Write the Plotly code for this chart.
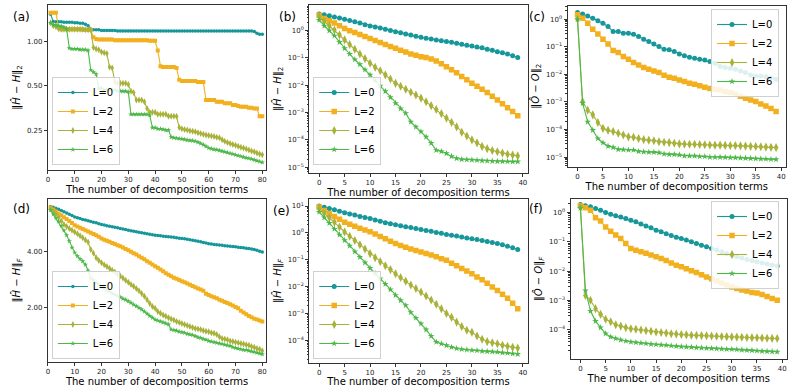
"""Erreur de décomposition en fonction du nombre de termes (6 panneaux)."""

import plotly.graph_objects as go
from plotly.subplots import make_subplots

# --- données -----------------------------------------------------------------
terms_80 = list(range(1, 81))
terms_40 = list(range(0, 40))

series_names = ["L=0", "L=2", "L=4", "L=6"]

# (a) ||H^ - H||_2, 80 termes
a_L0 = [1.53, 1.37, 1.36, 1.36, 1.36, 1.35, 1.35, 1.35, 1.35, 1.34,
        1.34, 1.33, 1.33, 1.31, 1.28, 1.21, 1.20, 1.20, 1.20, 1.19,
        1.19, 1.19, 1.19, 1.19, 1.19, 1.18, 1.18, 1.18, 1.18, 1.18,
        1.18, 1.18, 1.18, 1.18, 1.18, 1.18, 1.18, 1.18, 1.18, 1.18,
        1.18, 1.18, 1.18, 1.18, 1.18, 1.18, 1.18, 1.18, 1.18, 1.18,
        1.18, 1.18, 1.18, 1.18, 1.18, 1.18, 1.18, 1.18, 1.18, 1.18,
        1.18, 1.18, 1.18, 1.18, 1.18, 1.18, 1.18, 1.18, 1.18, 1.18,
        1.18, 1.18, 1.18, 1.18, 1.18, 1.18, 1.17, 1.14, 1.12, 1.12]
a_L2 = [1.57, 1.57, 1.57, 1.25, 1.21, 1.21, 1.21, 1.21, 1.21, 1.21,
        1.21, 1.21, 1.20, 1.20, 1.20, 1.20, 1.07, 1.04, 1.03, 1.03,
        1.03, 1.03, 1.03, 1.03, 1.02, 1.02, 1.02, 1.02, 1.02, 1.02,
        1.02, 1.02, 1.02, 1.02, 1.02, 1.02, 1.02, 1.01, 1.01, 1.01,
        0.87, 0.68, 0.67, 0.67, 0.67, 0.67, 0.67, 0.66, 0.55, 0.54,
        0.54, 0.54, 0.54, 0.54, 0.54, 0.53, 0.53, 0.53, 0.40, 0.40,
        0.40, 0.40, 0.39, 0.39, 0.39, 0.38, 0.38, 0.38, 0.37, 0.37,
        0.365, 0.36, 0.36, 0.36, 0.355, 0.355, 0.35, 0.35, 0.31, 0.31]
a_L4 = [1.34, 1.28, 1.26, 1.22, 1.21, 1.21, 1.21, 1.21, 1.21, 1.21,
        1.21, 1.21, 1.21, 1.20, 1.20, 1.20, 0.91, 0.89, 0.88, 0.85,
        0.84, 0.83, 0.67, 0.66, 0.53, 0.52, 0.52, 0.52, 0.52, 0.51,
        0.46, 0.45, 0.40, 0.40, 0.40, 0.39, 0.35, 0.33, 0.33, 0.33,
        0.32, 0.32, 0.32, 0.32, 0.31, 0.31, 0.31, 0.31, 0.26, 0.255,
        0.252, 0.25, 0.248, 0.246, 0.244, 0.24, 0.237, 0.234, 0.232, 0.23,
        0.228, 0.226, 0.224, 0.222, 0.215, 0.21, 0.206, 0.203, 0.20, 0.197,
        0.194, 0.191, 0.189, 0.186, 0.183, 0.18, 0.178, 0.175, 0.172, 0.17]
a_L6 = [1.34, 1.30, 1.29, 1.28, 1.27, 1.25, 1.22, 0.90, 0.89, 0.89,
        0.89, 0.88, 0.88, 0.88, 0.87, 0.64, 0.62, 0.60, 0.48, 0.48,
        0.47, 0.47, 0.47, 0.47, 0.47, 0.46, 0.46, 0.46, 0.46, 0.455,
        0.32, 0.32, 0.32, 0.32, 0.32, 0.32, 0.32, 0.315, 0.26, 0.26,
        0.255, 0.255, 0.253, 0.25, 0.25, 0.224, 0.222, 0.22, 0.219, 0.218,
        0.216, 0.214, 0.213, 0.212, 0.21, 0.207, 0.203, 0.199, 0.194, 0.189,
        0.187, 0.185, 0.184, 0.182, 0.18, 0.178, 0.176, 0.174, 0.172, 0.17,
        0.168, 0.166, 0.164, 0.162, 0.161, 0.159, 0.157, 0.155, 0.153, 0.151]

# (b) ||H^ - H||_2, 40 termes
b_L0 = [4.1, 3.8, 3.5, 3.2, 2.9, 2.6, 2.35, 2.1, 1.9, 1.65,
        1.48, 1.36, 1.25, 1.12, 1.02, 0.92, 0.84, 0.76, 0.69, 0.62,
        0.57, 0.53, 0.50, 0.46, 0.43, 0.40, 0.375, 0.35, 0.32, 0.295,
        0.275, 0.255, 0.235, 0.21, 0.19, 0.17, 0.155, 0.14, 0.12, 0.104]
b_L2 = [3.7, 2.8, 2.3, 1.9, 1.5, 1.2, 1.0, 0.85, 0.72, 0.61,
        0.52, 0.44, 0.37, 0.31, 0.265, 0.225, 0.19, 0.165, 0.14, 0.125,
        0.112, 0.105, 0.092, 0.078, 0.062, 0.048, 0.037, 0.029, 0.021, 0.016,
        0.0118, 0.0092, 0.0072, 0.0055, 0.0040, 0.0029, 0.0021, 0.0015, 0.0011, 0.00077]
b_L4 = [3.3, 2.2, 1.5, 1.05, 0.70, 0.46, 0.31, 0.21, 0.14, 0.095,
        0.064, 0.046, 0.034, 0.024, 0.017, 0.0118, 0.0092, 0.0072, 0.0056, 0.0044,
        0.0034, 0.0025, 0.0018, 0.0013, 0.00092, 0.00063, 0.00044, 0.00030, 0.00019, 0.00014,
        0.00010, 7.8e-5, 5.8e-5, 4.8e-5, 4.1e-5, 3.7e-5, 3.3e-5, 3.0e-5, 2.8e-5, 2.6e-5]
b_L6 = [2.45, 1.5, 1.0, 0.65, 0.38, 0.225, 0.14, 0.088, 0.058, 0.037,
        0.024, 0.015, 0.0095, 0.0060, 0.0036, 0.0022, 0.0014, 0.00095, 0.00046, 0.00030,
        0.00020, 0.00013, 7.6e-5, 4.2e-5, 3.8e-5, 3.2e-5, 2.5e-5, 2.1e-5, 1.95e-5, 1.9e-5,
        1.85e-5, 1.8e-5, 1.75e-5, 1.7e-5, 1.68e-5, 1.65e-5, 1.63e-5, 1.62e-5, 1.61e-5, 1.6e-5]

# (c) ||O^ - O||_2
c_L0 = [1.75, 1.56, 1.32, 1.09, 0.89, 0.716, 0.541, 0.356, 0.356, 0.31,
        0.31, 0.285, 0.235, 0.188, 0.155, 0.127, 0.102, 0.082, 0.078, 0.067,
        0.055, 0.047, 0.042, 0.0385, 0.0354, 0.0334, 0.029, 0.0252, 0.0191, 0.0176,
        0.0167, 0.0153, 0.0133, 0.0116, 0.0095, 0.0087, 0.0087, 0.0083, 0.0076, 0.0066]
c_L2 = [1.44, 1.09, 0.716, 0.43, 0.293, 0.188, 0.127, 0.073, 0.062, 0.044,
        0.035, 0.027, 0.022, 0.0176, 0.0153, 0.0133, 0.0116, 0.0093, 0.0078, 0.0072,
        0.0063, 0.0055, 0.0048, 0.0044, 0.0039, 0.0034, 0.0031, 0.0029, 0.0027, 0.0024,
        0.0022, 0.0019, 0.0016, 0.00136, 0.00118, 0.00103, 0.00084, 0.00071, 0.00058, 0.00045]
c_L4 = [1.0, 0.00103, 0.0005, 0.00034, 0.00018, 1.1e-4, 9.3e-5, 8.5e-5, 7.3e-5, 6.3e-5,
        5.4e-5, 5.2e-5, 4.7e-5, 4.3e-5, 4.1e-5, 3.9e-5, 3.6e-5, 3.45e-5, 3.35e-5, 3.15e-5,
        3.0e-5, 2.95e-5, 2.9e-5, 2.9e-5, 2.85e-5, 2.8e-5, 2.75e-5, 2.7e-5, 2.7e-5, 2.65e-5,
        2.6e-5, 2.6e-5, 2.55e-5, 2.5e-5, 2.45e-5, 2.4e-5, 2.35e-5, 2.3e-5, 2.25e-5, 2.2e-5]
c_L6 = [1.0, 9e-4, 1.9e-4, 9.5e-5, 4.7e-5, 3.3e-5, 2.5e-5, 2.25e-5, 1.9e-5, 1.85e-5,
        1.8e-5, 1.8e-5, 1.6e-5, 1.55e-5, 1.5e-5, 1.5e-5, 1.45e-5, 1.3e-5, 1.25e-5, 1.25e-5,
        1.2e-5, 1.1e-5, 1.1e-5, 1.1e-5, 1.05e-5, 1.05e-5, 1.0e-5, 1.0e-5, 1.0e-5, 9.8e-6,
        9.6e-6, 9.5e-6, 9.3e-6, 9.2e-6, 9.0e-6, 8.8e-6, 8.6e-6, 8.5e-6, 8.3e-6, 8.2e-6]

# (d) ||H^ - H||_F, 80 termes
d_L0 = [7.00, 6.92, 6.84, 6.75, 6.66, 6.56, 6.46, 6.36, 6.25, 6.14,
        6.08, 6.02, 5.96, 5.91, 5.86, 5.81, 5.76, 5.71, 5.65, 5.59,
        5.55, 5.51, 5.47, 5.44, 5.40, 5.37, 5.33, 5.29, 5.25, 5.21,
        5.18, 5.14, 5.11, 5.08, 5.05, 5.02, 4.99, 4.96, 4.93, 4.90,
        4.88, 4.86, 4.84, 4.82, 4.80, 4.79, 4.77, 4.75, 4.72, 4.70,
        4.68, 4.66, 4.63, 4.60, 4.57, 4.54, 4.51, 4.48, 4.44, 4.41,
        4.39, 4.37, 4.35, 4.34, 4.32, 4.30, 4.29, 4.27, 4.26, 4.24,
        4.22, 4.21, 4.19, 4.17, 4.15, 4.13, 4.10, 4.06, 4.02, 3.98]
d_L2 = [6.90, 6.74, 6.58, 6.42, 6.27, 6.12, 5.98, 5.84, 5.69, 5.54,
        5.45, 5.37, 5.29, 5.21, 5.13, 5.05, 4.97, 4.89, 4.80, 4.70,
        4.63, 4.57, 4.51, 4.45, 4.39, 4.33, 4.27, 4.20, 4.13, 4.07,
        3.99, 3.92, 3.85, 3.77, 3.70, 3.63, 3.55, 3.48, 3.41, 3.33,
        3.27, 3.20, 3.13, 3.06, 3.00, 2.94, 2.89, 2.85, 2.81, 2.77,
        2.73, 2.69, 2.65, 2.61, 2.57, 2.53, 2.50, 2.46, 2.37, 2.33,
        2.30, 2.27, 2.24, 2.20, 2.17, 2.14, 2.11, 2.08, 2.05, 2.01,
        1.98, 1.92, 1.88, 1.84, 1.80, 1.77, 1.74, 1.72, 1.70, 1.68]
d_L4 = [6.81, 6.60, 6.35, 6.10, 5.85, 5.60, 5.45, 5.32, 5.20, 5.10,
        4.98, 4.86, 4.74, 4.62, 4.50, 4.10, 3.92, 3.70, 3.58, 3.48,
        3.40, 3.32, 3.25, 3.17, 3.10, 3.02, 2.95, 2.88, 2.80, 2.73,
        2.66, 2.60, 2.53, 2.46, 2.38, 2.30, 2.20, 2.10, 2.02, 1.98,
        1.90, 1.86, 1.82, 1.79, 1.76, 1.73, 1.71, 1.68, 1.66, 1.64,
        1.62, 1.60, 1.58, 1.56, 1.54, 1.53, 1.52, 1.50, 1.49, 1.48,
        1.46, 1.45, 1.43, 1.39, 1.36, 1.35, 1.34, 1.32, 1.31, 1.30,
        1.29, 1.28, 1.27, 1.26, 1.25, 1.23, 1.22, 1.20, 1.19, 1.17]
d_L6 = [6.68, 6.35, 6.05, 5.80, 5.50, 5.20, 4.90, 4.55, 4.20, 3.95,
        3.78, 3.65, 3.55, 3.40, 3.16, 2.88, 2.80, 2.72, 2.65, 2.58,
        2.53, 2.48, 2.43, 2.38, 2.34, 2.30, 2.27, 2.23, 2.20, 2.16,
        2.12, 2.07, 2.03, 1.99, 1.95, 1.90, 1.85, 1.80, 1.76, 1.72,
        1.70, 1.68, 1.66, 1.64, 1.62, 1.52, 1.51, 1.50, 1.48, 1.47,
        1.46, 1.44, 1.43, 1.42, 1.40, 1.38, 1.37, 1.35, 1.34, 1.32,
        1.31, 1.30, 1.29, 1.28, 1.27, 1.26, 1.25, 1.24, 1.22, 1.21,
        1.20, 1.19, 1.18, 1.18, 1.17, 1.16, 1.15, 1.14, 1.13, 1.12]

# (e) ||H^ - H||_F, 40 termes
e_L0 = [10.0, 9.0, 8.1, 7.2, 6.4, 5.6, 5.1, 4.6, 4.1, 3.7,
        3.4, 3.0, 2.7, 2.4, 2.2, 2.0, 1.85, 1.7, 1.58, 1.46,
        1.35, 1.24, 1.14, 1.04, 0.96, 0.88, 0.82, 0.76, 0.70, 0.65,
        0.61, 0.57, 0.52, 0.48, 0.44, 0.40, 0.36, 0.32, 0.28, 0.24]
e_L2 = [9.2, 6.8, 5.2, 4.1, 3.2, 2.5, 2.1, 1.75, 1.5, 1.28,
        1.1, 0.90, 0.74, 0.60, 0.49, 0.40, 0.34, 0.29, 0.25, 0.22,
        0.195, 0.17, 0.15, 0.13, 0.11, 0.095, 0.075, 0.06, 0.047, 0.038,
        0.030, 0.023, 0.018, 0.0135, 0.0098, 0.0072, 0.0052, 0.0037, 0.0024, 0.00149]
e_L4 = [8.0, 5.5, 3.7, 2.5, 1.65, 1.08, 0.75, 0.52, 0.36, 0.25,
        0.17, 0.12, 0.085, 0.060, 0.043, 0.030, 0.022, 0.016, 0.0115, 0.0085,
        0.0063, 0.0045, 0.0032, 0.0022, 0.0015, 0.0010, 0.00072, 0.00048, 0.00033, 0.00024,
        0.00020, 0.000145, 0.00011, 9.0e-5, 8.2e-5, 7.5e-5, 6.6e-5, 6.0e-5, 5.5e-5, 5.2e-5]
e_L6 = [6.0, 3.7, 2.3, 1.4, 0.85, 0.53, 0.33, 0.20, 0.125, 0.078,
        0.049, 0.031, 0.020, 0.0125, 0.0078, 0.0048, 0.0031, 0.0020, 0.0011, 0.00068,
        0.00042, 0.00025, 0.000145, 8.7e-5, 7.5e-5, 6.5e-5, 5.6e-5, 5.0e-5, 4.7e-5, 4.5e-5,
        4.3e-5, 4.2e-5, 4.0e-5, 3.9e-5, 3.8e-5, 3.7e-5, 3.5e-5, 3.4e-5, 3.2e-5, 3.1e-5]

# (f) ||O^ - O||_F
f_L0 = [1.87, 1.69, 1.56, 1.37, 1.20, 1.00, 0.88, 0.78, 0.70, 0.62,
        0.55, 0.48, 0.41, 0.35, 0.30, 0.25, 0.22, 0.19, 0.165, 0.145,
        0.13, 0.115, 0.10, 0.088, 0.077, 0.068, 0.060, 0.053, 0.046, 0.040,
        0.035, 0.031, 0.028, 0.025, 0.023, 0.021, 0.019, 0.0175, 0.0163, 0.0152]
f_L2 = [1.69, 1.44, 1.2, 0.66, 0.51, 0.32, 0.23, 0.17, 0.13, 0.088,
        0.059, 0.052, 0.046, 0.041, 0.036, 0.031, 0.027, 0.023, 0.019, 0.016,
        0.0141, 0.0122, 0.0104, 0.0090, 0.0076, 0.0064, 0.0055, 0.0047, 0.0040, 0.0034,
        0.0029, 0.0026, 0.0023, 0.0021, 0.0019, 0.0018, 0.0016, 0.00138, 0.00118, 0.00103]
f_L4 = [1.56, 1.5e-3, 1.03e-3, 5.3e-4, 3.4e-4, 2.3e-4, 1.9e-4, 1.5e-4, 1.35e-4, 1.2e-4,
        1.1e-4, 1.05e-4, 1.0e-4, 9.5e-5, 9.0e-5, 8.5e-5, 8.2e-5, 7.8e-5, 7.4e-5, 7.2e-5,
        7.0e-5, 6.8e-5, 6.6e-5, 6.5e-5, 6.4e-5, 6.3e-5, 6.2e-5, 6.1e-5, 6.0e-5, 5.9e-5,
        5.8e-5, 5.7e-5, 5.6e-5, 5.5e-5, 5.45e-5, 5.4e-5, 5.3e-5, 5.2e-5, 5.15e-5, 5.1e-5]
f_L6 = [1.4, 2.2e-3, 4.4e-4, 2.0e-4, 1.2e-4, 7.5e-5, 5.8e-5, 5.1e-5, 4.6e-5, 4.2e-5,
        3.9e-5, 3.75e-5, 3.6e-5, 3.45e-5, 3.3e-5, 3.2e-5, 3.1e-5, 3.0e-5, 2.9e-5, 2.8e-5,
        2.7e-5, 2.65e-5, 2.6e-5, 2.5e-5, 2.45e-5, 2.4e-5, 2.35e-5, 2.3e-5, 2.25e-5, 2.2e-5,
        2.2e-5, 2.15e-5, 2.1e-5, 2.05e-5, 2.0e-5, 1.95e-5, 1.9e-5, 1.87e-5, 1.83e-5, 1.8e-5]

# --- style -------------------------------------------------------------------
FONT = "DejaVu Sans"
COLORS = ["#16979a", "#f2b01e", "#a8b23a", "#4cb848"]
SYMBOLS = ["circle", "square", "diamond-tall", "star"]
SIZES_40 = [5, 5.5, 6.5, 5]
SIZES_80 = [3.5, 4, 5, 4]

XTITLE = "The number of decomposition terms"
H2 = "‖<i>Ĥ</i> − <i>H</i>‖<sub>2</sub>"
HF = "‖<i>Ĥ</i> − <i>H</i>‖<sub><i>F</i></sub>"
O2 = "‖<i>Ô</i> − <i>O</i>‖<sub>2</sub>"
OF = "‖<i>Ô</i> − <i>O</i>‖<sub><i>F</i></sub>"

W, H = 793, 387

# tag, ligne, colonne, x, séries, titre y, domaine x (px), domaine y (px), légende
panels = [
    ("a", 1, 1, terms_80, [a_L0, a_L2, a_L4, a_L6], H2, (46, 265), (5, 170), "legend"),
    ("b", 1, 2, terms_40, [b_L0, b_L2, b_L4, b_L6], H2, (308, 527), (5, 172.7), "legend2"),
    ("c", 1, 3, terms_40, [c_L0, c_L2, c_L4, c_L6], O2, (567, 786), (6, 166.7), "legend3"),
    ("d", 2, 1, terms_80, [d_L0, d_L2, d_L4, d_L6], HF, (46, 265), (199, 362), "legend4"),
    ("e", 2, 2, terms_40, [e_L0, e_L2, e_L4, e_L6], HF, (308, 527), (199.3, 362.7), "legend5"),
    ("f", 2, 3, terms_40, [f_L0, f_L2, f_L4, f_L6], OF, (570, 787), (199.3, 358.7), "legend6"),
]

fig = make_subplots(rows=2, cols=3)

for tag, row, col, xs, series, ytitle, xdom, ydom, leg in panels:
    sizes = SIZES_80 if len(xs) == 80 else SIZES_40
    for name, ys, color, sym, size in zip(series_names, series, COLORS, SYMBOLS, sizes):
        fig.add_trace(
            go.Scatter(
                x=xs, y=ys, name=name, mode="lines+markers", legend=leg,
                line=dict(color=color, width=1.1),
                marker=dict(symbol=sym, size=size, color=color, line=dict(width=0)),
            ),
            row=row, col=col,
        )
    fig.update_xaxes(
        domain=[xdom[0] / W, xdom[1] / W],
        title=dict(text=XTITLE, font=dict(size=10, color="black"), standoff=2),
        row=row, col=col,
    )
    fig.update_yaxes(
        domain=[1 - ydom[1] / H, 1 - ydom[0] / H],
        title=dict(text=ytitle, font=dict(size=10, color="black"), standoff=4),
        type="log",
        row=row, col=col,
    )

# axes x
fig.update_xaxes(range=[0, 81.5], tickvals=list(range(0, 81, 10)), row=1, col=1)
fig.update_xaxes(range=[0, 81.5], tickvals=list(range(0, 81, 10)), row=2, col=1)
for r in (1, 2):
    for c in (2, 3):
        fig.update_xaxes(range=[-1.95, 40.95], tickvals=list(range(0, 41, 5)), row=r, col=c)


# axes y (log)
def pow_ticks(lo, hi):
    vals = [10.0 ** p for p in range(lo, hi + 1)]
    text = ["10<sup>%s</sup>" % (str(p).replace("-", "−")) for p in range(lo, hi + 1)]
    return vals, text


def minor_ticks(lo, hi):
    return [k * 10.0 ** p for p in range(lo, hi + 1) for k in range(2, 10)]


fig.update_yaxes(range=[-0.873, 0.248], tickvals=[0.25, 0.5, 1.0],
                 ticktext=["0.25", "0.50", "1.00"], row=1, col=1)
fig.update_yaxes(range=[0.007, 0.885], tickvals=[2.0, 4.0],
                 ticktext=["2.00", "4.00"], row=2, col=1)

log_panels = [(1, 2, -5.2, 0.94, -5, 0), (1, 3, -5.35, 0.48, -5, 0),
              (2, 2, -4.83, 1.25, -4, 1), (2, 3, -4.98, 0.45, -4, 0)]
for r, c, lo, hi, plo, phi in log_panels:
    vals, text = pow_ticks(plo, phi)
    fig.update_yaxes(range=[lo, hi], tickvals=vals, ticktext=text,
                     minor=dict(tickvals=minor_ticks(-7, 1), ticks="outside", ticklen=1.5,
                                tickcolor="#333", tickwidth=0.6),
                     row=r, col=c)

fig.update_xaxes(showgrid=False, zeroline=False, showline=True, mirror=True,
                 linecolor="#333", linewidth=1, ticks="outside", ticklen=3,
                 tickcolor="#333", tickfont=dict(size=7, color="#222"))
fig.update_yaxes(showgrid=False, zeroline=False, showline=True, mirror=True,
                 linecolor="#333", linewidth=1, ticks="outside", ticklen=3,
                 tickcolor="#333", tickfont=dict(size=7, color="#222"))

# légendes
legend_style = dict(font=dict(size=10, color="black", family=FONT), bgcolor="rgba(255,255,255,0.85)",
                    bordercolor="#d0d0d0", borderwidth=1, itemwidth=30, tracegroupgap=0)
legend_pos = {
    "legend": dict(x=50 / W, y=1 - 165 / H, xanchor="left", yanchor="bottom"),
    "legend2": dict(x=312 / W, y=1 - 165 / H, xanchor="left", yanchor="bottom"),
    "legend3": dict(x=779 / W, y=1 - 9 / H, xanchor="right", yanchor="top"),
    "legend4": dict(x=50 / W, y=1 - 359 / H, xanchor="left", yanchor="bottom"),
    "legend5": dict(x=312 / W, y=1 - 359 / H, xanchor="left", yanchor="bottom"),
    "legend6": dict(x=779 / W, y=1 - 201 / H, xanchor="right", yanchor="top"),
}
fig.update_layout({k: {**legend_style, **v} for k, v in legend_pos.items()})

# étiquettes de panneau
tag_pos = {"a": (9, 17), "b": (276, 17), "c": (526, 17), "d": (9, 209), "e": (270, 211), "f": (526, 209)}
for tag, (px, py) in tag_pos.items():
    fig.add_annotation(text="(%s)" % tag, x=px / W, y=1 - py / H, xref="paper", yref="paper",
                       xanchor="left", yanchor="middle", showarrow=False,
                       font=dict(size=12, color="black", family=FONT))

fig.update_layout(
    width=W, height=H,
    margin=dict(l=0, r=0, t=0, b=0),
    plot_bgcolor="white", paper_bgcolor="white",
    font=dict(family=FONT, color="black"),
    showlegend=True,
)

# la page HTML ajoute une marge de 8 px au body : on la retire
fig.write_html("out.html", config={"displayModeBar": False},
               post_script="document.body.style.margin='0';")
